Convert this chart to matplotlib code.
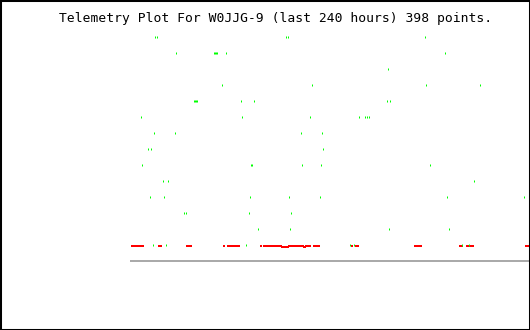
import matplotlib
matplotlib.use('Agg')
import matplotlib.pyplot as plt
from matplotlib.patches import Rectangle

title = 'Telemetry Plot For W0JJG-9 (last 240 hours) 398 points.'

# green channel: (hours, level)
green_hours = [14.4, 15.6, 93.2, 94.4, 176.8,
               26.5, 49.9, 50.5, 51.1, 51.7, 57.1, 188.3,
               154.0,
               54.7, 108.3, 177.4, 209.9,
               37.3, 37.9, 38.5, 39.1, 65.6, 73.4, 153.4, 155.2,
               6.0, 66.2, 107.1, 137.1, 140.2, 141.4, 142.6,
               13.8, 25.9, 101.7, 114.3,
               10.2, 12.0, 114.9,
               6.6, 71.6, 72.2, 102.3, 113.7, 179.8,
               19.2, 21.7, 206.3,
               11.4, 19.8, 71.0, 95.0, 113.1, 189.5, 235.8,
               31.3, 32.5, 70.4, 96.2,
               75.8, 95.6, 154.6, 190.7,
               13.2, 20.5, 68.6, 131.7, 134.1, 198.5, 203.3]
green_level = [13, 13, 13, 13, 13,
               12, 12, 12, 12, 12, 12, 12,
               11,
               10, 10, 10, 10,
               9, 9, 9, 9, 9, 9, 9, 9,
               8, 8, 8, 8, 8, 8, 8,
               7, 7, 7, 7,
               6, 6, 6,
               5, 5, 5, 5, 5, 5,
               4, 4, 4,
               3, 3, 3, 3, 3, 3, 3,
               2, 2, 2, 2,
               1, 1, 1, 1,
               0, 0, 0, 0, 0, 0, 0]

# red channel, mostly flat just under zero
red_hours = [0.0, 0.6, 1.2, 1.8, 2.4, 3.0, 3.6, 4.2, 4.8, 5.4, 6.0,
             7.2, 16.8, 18.0,
             33.1, 33.7, 34.3, 34.9, 35.5,
             55.9,
             58.3, 58.9, 59.5, 60.2, 60.8, 61.4, 62.0, 62.6, 63.2, 63.8, 64.4,
             77.6,
             80.0, 80.6, 81.2, 81.8, 82.4, 83.0, 83.6, 84.2, 84.8, 85.4,
             86.0, 86.6, 87.2, 87.8, 88.4, 89.0, 89.6, 90.2,
             90.8, 91.4, 92.0, 92.6, 93.2, 93.8, 94.4,
             95.0, 95.6, 96.2, 96.8, 97.4, 98.0, 98.6, 99.2, 99.8, 100.4,
             101.1, 101.7, 102.3, 102.9,
             103.5, 104.1,
             104.7, 105.3, 105.9, 106.5, 107.1,
             109.5, 110.1, 110.7, 111.3, 111.9, 112.5,
             132.9, 135.3, 135.9, 136.5,
             170.8, 172.0, 172.6, 173.2, 173.8, 174.4,
             197.3, 197.9, 198.5,
             202.1, 202.7, 203.3, 204.5, 205.1, 205.7,
             237.0, 237.6, 238.2, 238.8, 239.4]
red_level = ([-0.0625] * 50 + [-0.125] * 7 + [-0.0625] * 14 + [-0.125] * 2
             + [-0.0625] * (len(red_hours) - 73))

fig = plt.figure(figsize=(5.3, 3.3), dpi=100)
fig.patch.set_facecolor('white')
ax = fig.add_axes([131 / 530, 69 / 330, 399 / 530, 231 / 330])

ax.plot(red_hours, red_level, linestyle='none', marker='s', markersize=1.44,
        markeredgewidth=0, color='#ff0000', antialiased=False)
ax.plot(green_hours, green_level, linestyle='none', marker='|', markersize=1.44,
        markeredgewidth=0.72, color='#00ff00', antialiased=False)

ax.set_xlim(-0.3, 239.7)
ax.set_ylim(-1.0, 13.4375)
for side in ['top', 'left', 'right']:
    ax.spines[side].set_visible(False)
ax.spines['bottom'].set_color('#aaaaaa')
ax.spines['bottom'].set_linewidth(1.44)
ax.set_xticks([])
ax.set_yticks([])

fig.text(59 / 530, 308 / 330, title, family='DejaVu Sans Mono', fontsize=9.35,
         color='black', ha='left', va='baseline')

fig.add_artist(Rectangle((0, 0), 1, 1, transform=fig.transFigure, fill=False,
                         edgecolor='black', linewidth=2.2))

fig.savefig('out.png', dpi=100)
